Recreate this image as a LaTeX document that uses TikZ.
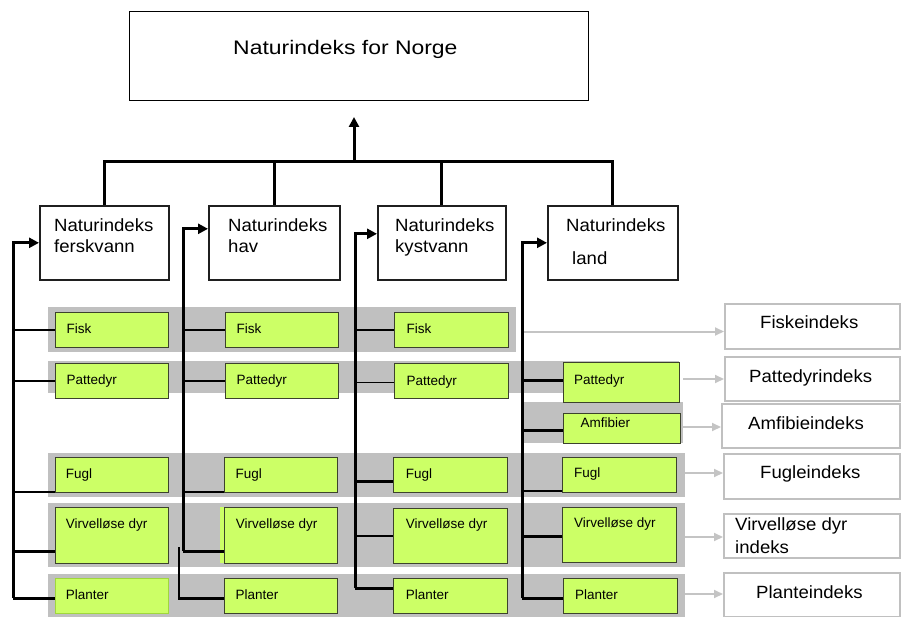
\documentclass[tikz,border=0pt]{standalone}
\usepackage{fontspec}
\setmainfont{Liberation Sans}
\newfontfamily\widefam[FakeStretch=1.05]{Liberation Sans}
\newfontfamily\topfam[FakeStretch=1.17]{Liberation Sans}
\usetikzlibrary{arrows.meta}
\definecolor{limeg}{RGB}{204,255,102}
\definecolor{limeborder}{RGB}{160,215,60}
\definecolor{gline}{RGB}{60,66,44}
\definecolor{bandgray}{RGB}{192,192,192}
\definecolor{arrowgray}{RGB}{196,196,196}
\newcommand\midfont{\widefam\fontsize{17.7}{21}\selectfont}
\newcommand\gfont{\fontsize{13.5}{16}\selectfont}
\newcommand\topfont{\topfam\fontsize{19.6}{24}\selectfont}
% style, name, x1, y1, x2, y2
\newcommand\mkbox[6]{\node[#1, anchor=north west, minimum width={(#5-#3)*1pt}, minimum height={(#6-#4)*1pt}] (#2) at (#3,#4) {};}
% style, name, position, text
\newcommand\tx[4]{\node[#1, anchor=base west] (#2) at (#3) {#4};}
% trunk coordinate, branch end point
\newcommand\br[2]{\path #2 coordinate (tmpb); \draw[branch] (#1 |- tmpb) -- (tmpb);}
\newcommand\brthin[2]{\path #2 coordinate (tmpb); \draw[thinbranch] (#1 |- tmpb) -- (tmpb);}
\tikzset{
  topbox/.style={rectangle, draw=black, line width=1.2pt, fill=white, inner sep=0},
  midbox/.style={rectangle, draw=black!88, line width=1.6pt, fill=white, inner sep=0},
  gbox/.style={rectangle, draw=gline, line width=1pt, fill=limeg, inner sep=0},
  gboxl/.style={rectangle, draw=limeborder, line width=1pt, fill=limeg, inner sep=0},
  band/.style={rectangle, fill=bandgray, draw=none, inner sep=0, outer sep=0},
  ibox/.style={rectangle, draw=bandgray, line width=1.6pt, fill=white, inner sep=0},
  trunk/.style={line width=3pt, draw=black},
  branch/.style={line width=2.4pt, draw=black},
  thinbranch/.style={line width=1.8pt, draw=black},
  blkarrow/.style={-{Triangle[length=10pt,width=10pt]}},
  garrow/.style={draw=arrowgray, line width=2pt, -{Triangle[length=9pt,width=8pt]}},
  midtxt/.style={font=\midfont, inner sep=0},
  gtxt/.style={font=\gfont, inner sep=0},
  toptxt/.style={font=\topfont, inner sep=0},
}
\begin{document}
\begin{tikzpicture}[x=1pt,y=-1pt]
\useasboundingbox (0,0) rectangle (901,617);
% bands
\mkbox{band}{b1}{48}{307}{516}{352}
\mkbox{band}{b2}{48}{361}{679}{393}
\mkbox{band}{b3}{523}{402}{683}{443}
\mkbox{band}{b4}{48}{453}{685}{497}
\mkbox{band}{b5}{48}{503}{685}{567}
\mkbox{band}{b6}{48}{574}{685}{617}
% top and second level
\mkbox{topbox}{top}{129}{11}{588}{100}
\tx{toptxt}{ttop}{233,55}{Naturindeks for Norge}
\mkbox{midbox}{n1}{39}{205}{168}{279}
\mkbox{midbox}{n2}{208}{205}{339}{279}
\mkbox{midbox}{n3}{377}{205}{505}{279}
\mkbox{midbox}{n4}{547}{205}{677}{279}
\tx{midtxt}{tn1a}{54,232}{Naturindeks}
\tx{midtxt}{tn1b}{54,253}{ferskvann}
\tx{midtxt}{tn2a}{228,232}{Naturindeks}
\tx{midtxt}{tn2b}{228,253}{hav}
\tx{midtxt}{tn3a}{395,232}{Naturindeks}
\tx{midtxt}{tn3b}{395,253}{kystvann}
\tx{midtxt}{tn4a}{566,232}{Naturindeks}
\tx{midtxt}{tn4b}{572,265}{land}
% green boxes
\mkbox{gbox}{fi1}{55}{312}{168}{347}
\mkbox{gbox}{fi2}{225}{312}{338}{347}
\mkbox{gbox}{fi3}{394}{312}{508}{347}
\mkbox{gbox}{pa1}{55}{363}{168}{398}
\mkbox{gbox}{pa2}{225}{363}{338}{398}
\mkbox{gbox}{pa3}{394}{363}{508}{398}
\mkbox{gbox}{pa4}{563}{362}{679}{402}
\mkbox{gbox}{am4}{563}{413}{680}{443}
\mkbox{gbox}{fu1}{55}{457}{168}{492}
\mkbox{gbox}{fu2}{224}{457}{337}{492}
\mkbox{gbox}{fu3}{393}{457}{507}{492}
\mkbox{gbox}{fu4}{562}{457}{676}{492}
\fill[limeg] (220,507) rectangle (333,563);
\mkbox{gbox}{vi1}{55}{507}{168}{563}
\mkbox{gbox}{vi2}{224}{507}{337}{563}
\mkbox{gbox}{vi3}{393}{508}{507}{563}
\mkbox{gbox}{vi4}{562}{507}{676}{562}
\mkbox{gboxl}{pl1}{55}{578}{168}{613}
\mkbox{gbox}{pl2}{224}{578}{337}{613}
\mkbox{gbox}{pl3}{393}{578}{507}{613}
\mkbox{gbox}{pl4}{563}{578}{677}{613}
\tx{gtxt}{tfi1}{66.5,333}{Fisk}
\tx{gtxt}{tfi2}{236.5,333}{Fisk}
\tx{gtxt}{tfi3}{406.5,333}{Fisk}
\tx{gtxt}{tpa1}{66.5,384}{Pattedyr}
\tx{gtxt}{tpa2}{236.5,384.5}{Pattedyr}
\tx{gtxt}{tpa3}{406.5,385}{Pattedyr}
\tx{gtxt}{tpa4}{574,384}{Pattedyr}
\tx{gtxt}{tam4}{580.5,427}{Amfibier}
\tx{gtxt}{tfu1}{65.7,478}{Fugl}
\tx{gtxt}{tfu2}{235.3,478}{Fugl}
\tx{gtxt}{tfu3}{405.7,478}{Fugl}
\tx{gtxt}{tfu4}{574,477.7}{Fugl}
\tx{gtxt}{tvi1}{65.7,528}{Virvelløse dyr}
\tx{gtxt}{tvi2}{235.7,528}{Virvelløse dyr}
\tx{gtxt}{tvi3}{405.7,528}{Virvelløse dyr}
\tx{gtxt}{tvi4}{574,527}{Virvelløse dyr}
\tx{gtxt}{tpl1}{65.7,599}{Planter}
\tx{gtxt}{tpl2}{235.3,599}{Planter}
\tx{gtxt}{tpl3}{405.7,599}{Planter}
\tx{gtxt}{tpl4}{575,599}{Planter}
% right index boxes
\mkbox{ibox}{r1}{724}{303}{899}{348}
\mkbox{ibox}{r2}{724}{356}{899}{400}
\mkbox{ibox}{r3}{721}{403}{899}{447}
\mkbox{ibox}{r4}{723}{453}{899}{498}
\mkbox{ibox}{r5}{723}{513}{899}{557}
\mkbox{ibox}{r6}{723}{572}{899}{616}
\tx{midtxt}{tr1}{760,328}{Fiskeindeks}
\tx{midtxt}{tr2}{749,382}{Pattedyrindeks}
\tx{midtxt}{tr3}{748,429}{Amfibieindeks}
\tx{midtxt}{tr4}{760,478}{Fugleindeks}
\tx{midtxt}{tr5a}{735,530}{Virvelløse dyr}
\tx{midtxt}{tr5b}{735,553}{indeks}
\tx{midtxt}{tr6}{756,598}{Planteindeks}
% gray arrows
\path ([xshift=7pt,yshift=-2pt]b1.east) coordinate (g1);
\draw[garrow] (g1) -- (g1 -| r1.west);
\path ([xshift=4pt,yshift=-2pt]b2.east) coordinate (g2);
\draw[garrow] (g2) -- (g2 -| r2.west);
\path ([yshift=-4.5pt]b3.east) coordinate (g3);
\draw[garrow] (g3) -- (g3 -| r3.west);
\path ([yshift=2pt]b4.east) coordinate (g4);
\draw[garrow] (g4) -- (g4 -| r4.west);
\path ([yshift=-2pt]b5.east) coordinate (g5);
\draw[garrow] (g5) -- (g5 -| r5.west);
\path ([yshift=1.5pt]b6.east) coordinate (g6);
\draw[garrow] (g6) -- (g6 -| r6.west);
% tree to top
\coordinate (hub) at (354,162);
\coordinate (topin) at (354,117);
\draw[trunk] (n1.north) |- (hub) -| (n4.north);
\draw[trunk] (n2.north) -- (n2.north |- hub);
\draw[trunk] (n3.north) -- (n3.north |- hub);
\draw[trunk, blkarrow] (hub) -- (topin);
% column 1
\coordinate (c1) at (13,598);
\draw[trunk, blkarrow] (c1) |- (n1.west);
\br{c1}{(fi1.west)}
\br{c1}{(pa1.west)}
\br{c1}{([yshift=1pt]fu1.south west)}
\br{c1}{([yshift=-16pt]vi1.west)}
\br{c1}{([yshift=-2.5pt]pl1.west)}
% column 2
\coordinate (c2) at (183,551);
\draw[trunk, blkarrow] (c2) |- ([yshift=14pt]n2.west);
\br{c2}{(fi2.west)}
\br{c2}{(pa2.west)}
\br{c2}{([yshift=1pt]fu2.south west)}
\br{c2}{([yshift=-16pt]vi2.west)}
\coordinate (c2b) at (179,547);
\draw[branch] (c2b) |- ([yshift=-2.5pt]pl2.west);
% column 3
\coordinate (c3) at (355,588);
\draw[trunk, blkarrow] (c3) |- ([yshift=9pt]n3.west);
\brthin{c3}{(fi3.west)}
\brthin{c3}{([yshift=-1.5pt]pa3.west)}
\br{c3}{([yshift=-6.5pt]fu3.west)}
\br{c3}{(vi3.west)}
\br{c3}{([yshift=7.5pt]pl3.west)}
% column 4
\coordinate (c4) at (522,598);
\draw[trunk, blkarrow] (c4) |- (n4.west);
\br{c4}{([yshift=2pt]pa4.west)}
\br{c4}{([yshift=-2pt]am4.west)}
\br{c4}{([yshift=2pt]fu4.south west)}
\br{c4}{([yshift=-1.5pt]vi4.west)}
\br{c4}{([yshift=-2.5pt]pl4.west)}
\end{tikzpicture}
\end{document}
